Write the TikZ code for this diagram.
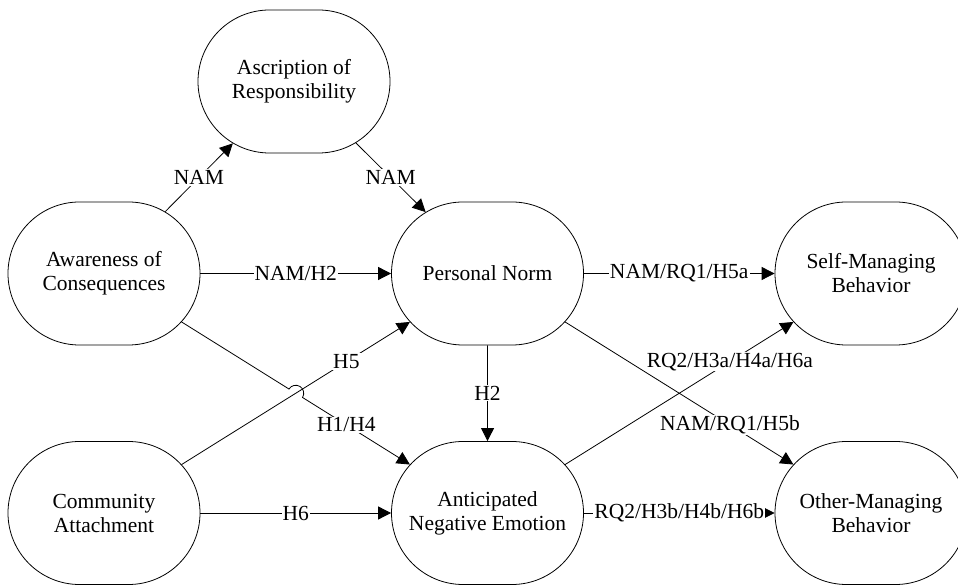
\documentclass[tikz,border=0pt]{standalone}
\usepackage{fontspec}
\setmainfont{Liberation Serif}
\usetikzlibrary{shapes.misc,arrows.meta,calc}
\begin{document}
\begin{tikzpicture}[x=1pt,y=1pt,
  stadium/.style={draw, line width=0.8pt, rounded rectangle, rounded rectangle arc length=180,
    minimum width=192pt, minimum height=143pt, inner sep=0pt, align=center,
    font=\fontsize{21.5}{24}\selectfont},
  conn/.style={draw, line width=0.8pt, -{Triangle[length=13pt,width=13pt]}},
  lbl/.style={fill=white, inner sep=1pt, font=\fontsize{21.5}{24}\selectfont}]
\useasboundingbox (0,0) rectangle (958,586);
% nodes
\node[stadium] (asc) at (294,504.5) {Ascription of\\Responsibility};
\node[stadium] (aw)  at (104,312.5) {Awareness of\\Consequences};
\node[stadium] (pn)  at (487.5,312.5) {Personal Norm};
\node[stadium] (self) at (871,312.5) {Self-Managing\\Behavior};
\node[stadium] (com) at (104,73) {Community\\Attachment};
\node[stadium] (ant) at (487.5,73) {Anticipated\\Negative Emotion};
\node[stadium] (oth) at (871,73) {Other-Managing\\Behavior};
% straight connectors
\draw[conn] (aw) -- node[lbl] (l1) {NAM} (asc);
\draw[conn] (asc) -- node[lbl] (l2) {NAM} (pn);
\draw[conn] (aw) -- node[lbl] (l3) {NAM/H2} (pn);
\draw[conn] (pn) -- node[lbl] (l4) {NAM/RQ1/H5a} (self);
\draw[conn] (pn) -- node[lbl] (l5) {H2} (ant);
\draw[conn] (com) -- node[lbl] (l6) {H6} (ant);
\draw[conn] (ant) -- node[lbl] (l7) {RQ2/H3b/H4b/H6b} (oth);
% diagonal connectors
\draw[conn] (com) -- (pn);
\draw[conn] (pn) -- (oth);
\draw[conn] (ant) -- (self);
\coordinate (X) at ($(aw)!0.5!(ant)$);
\draw[conn] (aw) -- ($(X)!8pt!(aw)$) arc[start angle=148, end angle=-32, radius=8pt] -- (ant);
% diagonal labels
\node[lbl] (l8)  at ($(com)!0.632!(pn)$) {H5};
\node[lbl] (l9)  at ($(aw)!0.632!(ant)$) {H1/H4};
\node[lbl] (l10) at ($(pn)!0.632!(oth)$) {NAM/RQ1/H5b};
\node[lbl] (l11) at ($(ant)!0.632!(self)$) {RQ2/H3a/H4a/H6a};
\end{tikzpicture}
\end{document}
